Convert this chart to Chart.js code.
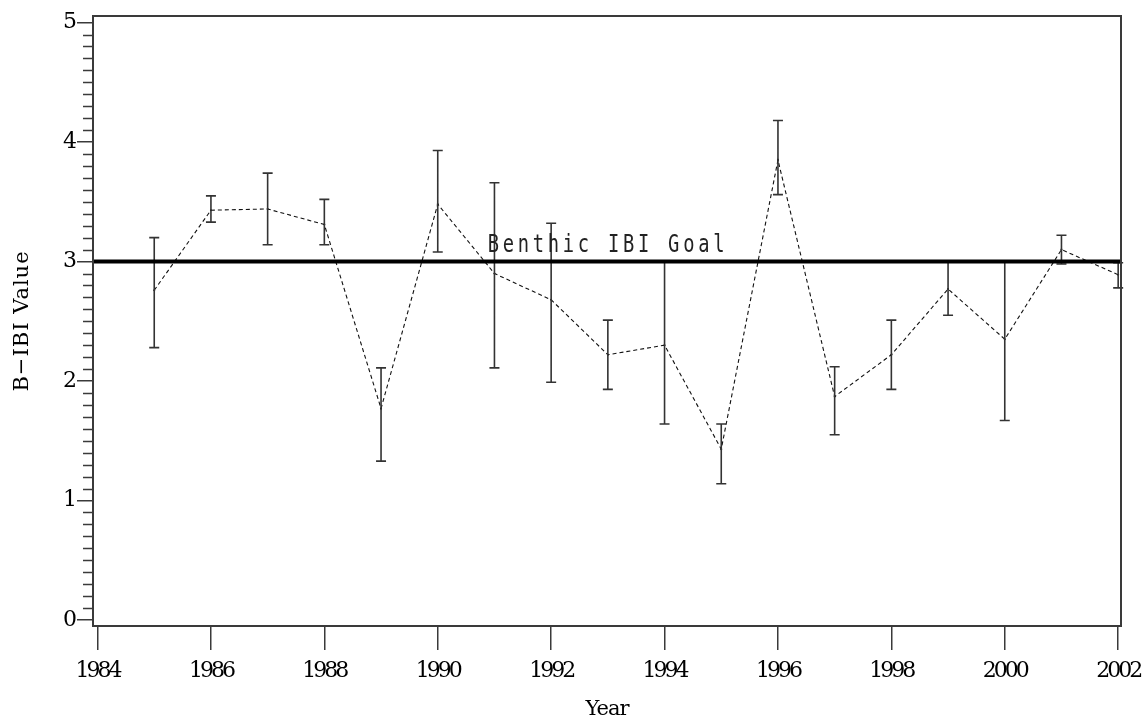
<!DOCTYPE html>
<html>
<head>
<meta charset="utf-8">
<title>B-IBI Value</title>
<script src="https://cdn.jsdelivr.net/npm/chart.js@4.4.1/dist/chart.umd.min.js"></script>
<style>
    html, body { margin: 0; padding: 0; background: #fff; }
    #ibiChart { display: block; }
</style>
</head>
<body>
<canvas id="ibiChart" width="1144" height="723"></canvas>
<script>
// Données
const years = [1985, 1986, 1987, 1988, 1989, 1990, 1991, 1992, 1993, 1994, 1995, 1996, 1997, 1998, 1999, 2000, 2001, 2002];
const meanValues = [2.76, 3.43, 3.44, 3.31, 1.77, 3.48, 2.90, 2.68, 2.22, 2.30, 1.43, 3.85, 1.87, 2.22, 2.77, 2.35, 3.10, 2.89];
const upperValues = [3.20, 3.55, 3.74, 3.52, 2.11, 3.93, 3.66, 3.32, 2.51, 3.00, 1.64, 4.18, 2.12, 2.51, 3.00, 3.00, 3.22, 2.99];
const lowerValues = [2.28, 3.33, 3.14, 3.14, 1.33, 3.08, 2.11, 1.99, 1.93, 1.64, 1.14, 3.56, 1.55, 1.93, 2.55, 1.67, 2.98, 2.78];
const xTickValues = [1984, 1986, 1988, 1990, 1992, 1994, 1996, 1998, 2000, 2002];
const yTickValues = [0, 1, 2, 3, 4, 5];
const goalValue = 3;
const goalLabel = 'Benthic IBI Goal';

const serif = '"DejaVu Serif", "Liberation Serif", serif';
const axisColor = '#3a3a3a';

// Barres d'erreur, cadre, petites graduations et ligne objectif
const decorPlugin = {
    id: 'decor',
    beforeDraw: function(chart) {
        // chiffres serrés, comme dans l'original
        chart.ctx.letterSpacing = '-3px';
    },
    afterDatasetsDraw: function(chart) {
        const ctx = chart.ctx;
        const x = chart.scales.x;
        const y = chart.scales.y;
        const area = chart.chartArea;

        ctx.save();
        ctx.letterSpacing = '0px';

        // barres d'erreur
        ctx.strokeStyle = '#333';
        ctx.lineWidth = 1.6;
        ctx.beginPath();
        for (let i = 0; i < years.length; i++) {
            const px = x.getPixelForValue(years[i]);
            const top = y.getPixelForValue(upperValues[i]);
            const bottom = y.getPixelForValue(lowerValues[i]);
            ctx.moveTo(px, top);
            ctx.lineTo(px, bottom);
            ctx.moveTo(px - 5, top);
            ctx.lineTo(px + 5, top);
            ctx.moveTo(px - 5, bottom);
            ctx.lineTo(px + 5, bottom);
        }
        ctx.stroke();

        // ligne objectif
        const gy = y.getPixelForValue(goalValue);
        ctx.strokeStyle = '#000';
        ctx.lineWidth = 4;
        ctx.beginPath();
        ctx.moveTo(area.left, gy);
        ctx.lineTo(area.right, gy);
        ctx.stroke();

        // texte étroit et espacé
        ctx.save();
        ctx.fillStyle = '#222';
        ctx.font = '25px "DejaVu Sans Mono", monospace';
        ctx.textAlign = 'left';
        ctx.textBaseline = 'alphabetic';
        ctx.letterSpacing = '5px';
        ctx.translate(x.getPixelForValue(1990.88), gy - 10);
        ctx.scale(0.75, 1);
        ctx.fillText(goalLabel, 0, 0);
        ctx.restore();

        // cadre
        ctx.strokeStyle = axisColor;
        ctx.lineWidth = 2;
        ctx.strokeRect(area.left, area.top, area.right - area.left, area.bottom - area.top);

        // petites graduations de l'axe y
        ctx.lineWidth = 1.5;
        ctx.beginPath();
        for (let v = 0; v < 50; v++) {
            if (v % 10 === 0) continue;
            const py = Math.round(y.getPixelForValue(v / 10)) + 0.5;
            ctx.moveTo(area.left - 10, py);
            ctx.lineTo(area.left, py);
        }
        ctx.stroke();

        // titres des axes
        ctx.fillStyle = '#000';
        ctx.font = '21px ' + serif;
        ctx.textAlign = 'center';
        ctx.textBaseline = 'middle';
        ctx.letterSpacing = '-1px';
        ctx.fillText('Year', (area.left + area.right) / 2, 710);

        ctx.translate(23, (area.top + area.bottom) / 2);
        ctx.rotate(-Math.PI / 2);
        ctx.letterSpacing = '1px';
        ctx.fillText('B\u2212IBI Value', 0, 0);
        ctx.restore();
    }
};

function setupChart() {
    const ctx = document.getElementById('ibiChart').getContext('2d');

    const points = years.map(function(yr, i) {
        return { x: yr, y: meanValues[i] };
    });

    new Chart(ctx, {
        type: 'scatter',
        data: {
            datasets: [{
                data: points,
                showLine: true,
                borderColor: '#111',
                borderWidth: 1.1,
                borderDash: [4, 3],
                pointRadius: 1,
                pointBackgroundColor: '#000',
                pointBorderWidth: 0,
                tension: 0
            }]
        },
        options: {
            responsive: false,
            animation: false,
            events: [],
            layout: {
                padding: { top: 16, right: 23, left: 0, bottom: 0 }
            },
            plugins: {
                legend: { display: false },
                tooltip: { enabled: false }
            },
            scales: {
                x: {
                    type: 'linear',
                    min: 1983.92,
                    max: 2002.05,
                    afterBuildTicks: function(scale) {
                        scale.ticks = xTickValues.map(function(v) { return { value: v }; });
                    },
                    afterFit: function(scale) {
                        scale.height = 97;
                        scale.paddingLeft = 0;
                        scale.paddingRight = 0;
                    },
                    border: { display: false },
                    grid: {
                        drawOnChartArea: false,
                        drawTicks: true,
                        tickLength: 24,
                        color: axisColor,
                        lineWidth: 1.5
                    },
                    ticks: {
                        padding: 8,
                        color: '#000',
                        maxRotation: 0,
                        font: { family: serif, size: 22 },
                        callback: function(value) { return String(value); }
                    }
                },
                y: {
                    min: -0.05,
                    max: 5.055,
                    afterBuildTicks: function(scale) {
                        scale.ticks = yTickValues.map(function(v) { return { value: v }; });
                    },
                    afterFit: function(scale) {
                        scale.width = 93;
                        scale.paddingTop = 0;
                        scale.paddingBottom = 0;
                    },
                    border: { display: false },
                    grid: {
                        drawOnChartArea: false,
                        drawTicks: true,
                        tickLength: 16,
                        color: axisColor,
                        lineWidth: 1.5
                    },
                    ticks: {
                        padding: 3,
                        color: '#000',
                        font: { family: serif, size: 22 },
                        callback: function(value) { return String(value); }
                    }
                }
            }
        },
        plugins: [decorPlugin]
    });
}

setupChart();
</script>
</body>
</html>
